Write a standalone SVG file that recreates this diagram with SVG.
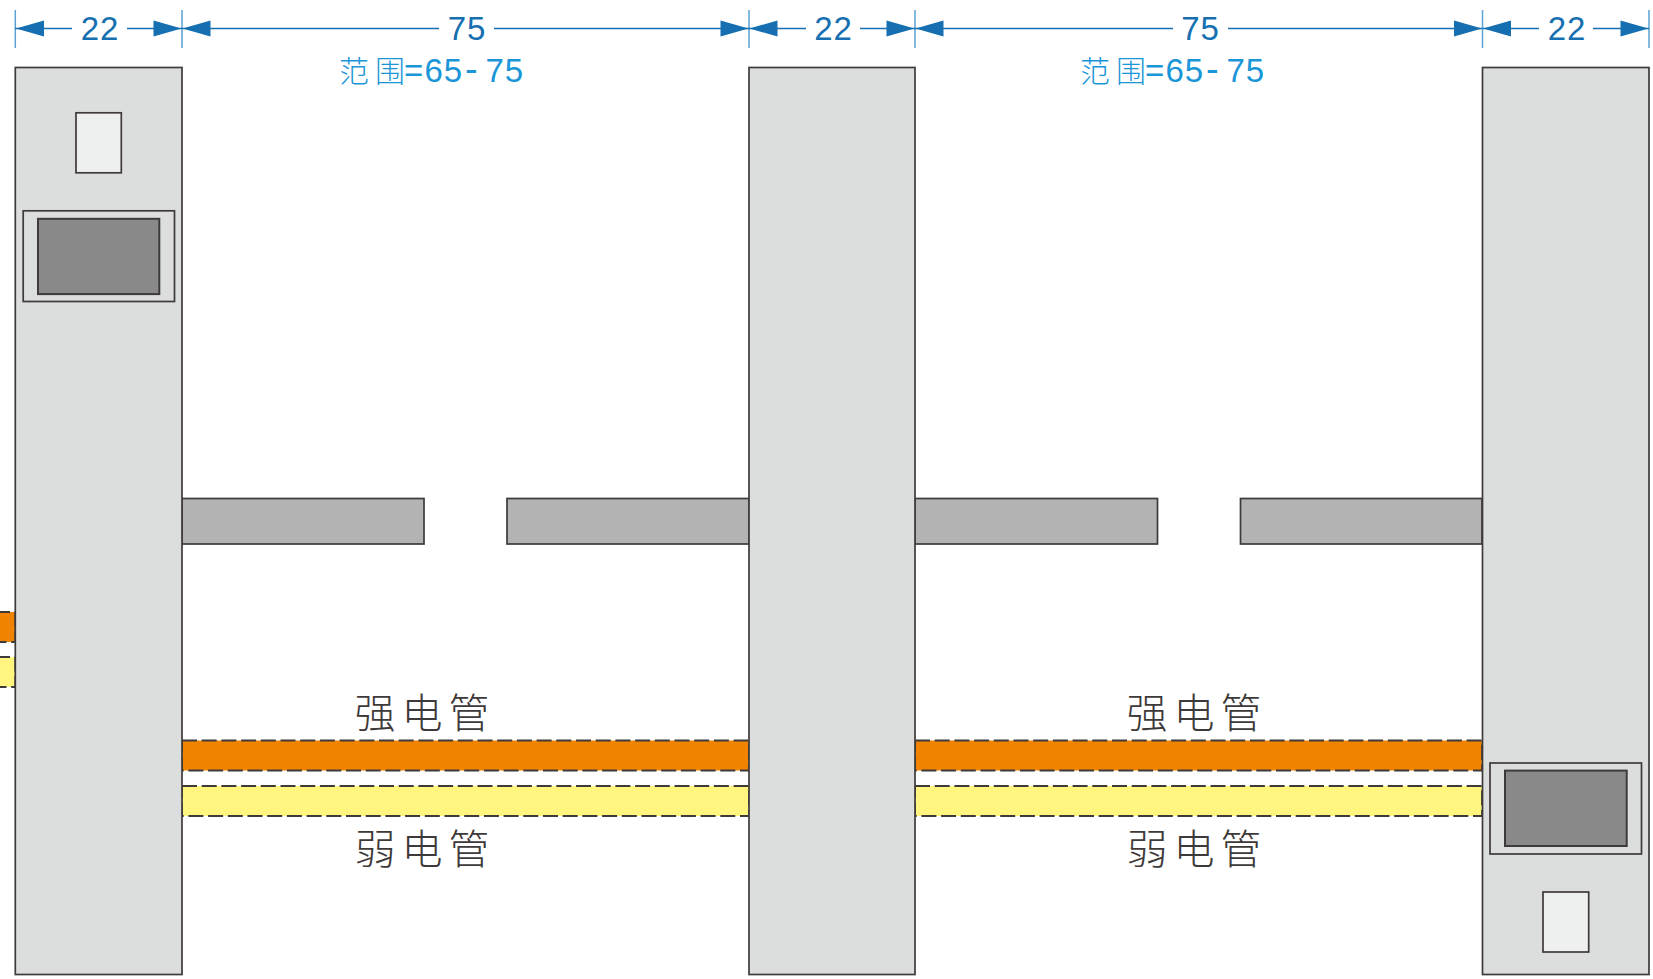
<svg xmlns="http://www.w3.org/2000/svg" width="1653" height="979" viewBox="0 0 1653 979">
<style>
.s{stroke:#3e3a39;stroke-width:1.7}
.post{fill:#dcdddd}
.win{fill:#eef0ef}
.scr{fill:#898989;stroke-width:2}
.fr{fill:#dcdddd}
.bar{fill:#b3b3b3}
.o{fill:#f08300}
.y{fill:#fff57f}
.d{stroke:#3e3a39;stroke-width:1.8;stroke-dasharray:15 4.7}
.dim{stroke:#156fb0;stroke-width:1.5;fill:none}
.tick{stroke:#5ba3d4;stroke-width:1.5;fill:none}
.a{fill:#156fb0}
.t{font-family:"Liberation Sans","Noto Sans CJK SC",sans-serif;font-size:33px;letter-spacing:1px;fill:#156fb0;text-anchor:middle}
.r{font-family:"Liberation Sans","Noto Sans CJK SC",sans-serif;font-size:33px;letter-spacing:1px;fill:#1a96d8}
.r tspan.c{font-family:"Noto Sans CJK SC",sans-serif;font-weight:300;font-size:30px}
.r tspan.h{font-size:38px}
.l{font-family:"Noto Sans CJK SC",sans-serif;font-weight:300;font-size:41px;letter-spacing:6px;fill:#3e3a39;text-anchor:middle}
</style>
<defs>
<polygon id="al" class="a" points="0,0 28,-8 28,8"/>
<polygon id="ar" class="a" points="0,0 -28,-8 -28,8"/>
</defs>
<g id="conduits">
<rect class="o d" x="-5" y="612" width="20.3" height="30"/>
<rect class="y d" x="-5" y="657" width="20.3" height="30"/>
<rect class="o d" x="182" y="740.5" width="567" height="30"/>
<rect class="y d" x="182" y="786" width="567" height="30"/>
<rect class="o d" x="915" y="740.5" width="567" height="30"/>
<rect class="y d" x="915" y="786" width="567" height="30"/>
</g>
<g id="beams">
<rect class="bar s" x="182" y="498.5" width="242" height="45.5"/>
<rect class="bar s" x="507" y="498.5" width="242" height="45.5"/>
<rect class="bar s" x="915" y="498.5" width="242.5" height="45.5"/>
<rect class="bar s" x="1240.5" y="498.5" width="241.5" height="45.5"/>
</g>
<g id="post-left">
<rect class="post s" x="15.3" y="67.5" width="166.7" height="907"/>
<rect class="win s" x="76" y="112.8" width="45.3" height="60"/>
<rect class="fr s" x="23.2" y="210.8" width="151.3" height="90.7"/>
<rect class="scr s" x="38" y="218.8" width="121.3" height="75.3"/>
</g>
<g id="post-middle">
<rect class="post s" x="749" y="67.5" width="166" height="907"/>
</g>
<g id="post-right">
<rect class="post s" x="1482.5" y="67.5" width="166.5" height="907"/>
<rect class="fr s" x="1490" y="763" width="151.5" height="91"/>
<rect class="scr s" x="1505" y="770.6" width="121.7" height="75.4"/>
<rect class="win s" x="1543" y="892" width="45.7" height="60"/>
</g>
<g id="connectors">
<path class="tick" d="M15.3 10V48M182 10V48M749 10V48M915 10V48M1482.5 10V48M1649 10V48"/>
<path class="dim" d="M15 28.5H72M127 28.5H182M182 28.5H439M494 28.5H749M749 28.5H806M860 28.5H915M915 28.5H1173M1228 28.5H1482M1482.5 28.5H1539M1593 28.5H1649"/>
<use href="#al" x="16" y="28.5"/><use href="#ar" x="181.5" y="28.5"/>
<use href="#al" x="182.5" y="28.5"/><use href="#ar" x="748.5" y="28.5"/>
<use href="#al" x="749.5" y="28.5"/><use href="#ar" x="914.5" y="28.5"/>
<use href="#al" x="915.5" y="28.5"/><use href="#ar" x="1482" y="28.5"/>
<use href="#al" x="1483" y="28.5"/><use href="#ar" x="1648.5" y="28.5"/>
</g>
<g id="dimension-labels">
<text class="t" x="100" y="40">22</text>
<text class="t" x="467" y="40">75</text>
<text class="t" x="833.5" y="40">22</text>
<text class="t" x="1200.5" y="40">75</text>
<text class="t" x="1567" y="40">22</text>
<text class="r" y="82"><tspan class="c" x="339">范</tspan><tspan class="c" x="375">围</tspan><tspan x="404">=</tspan><tspan x="424.5">65</tspan><tspan class="h" x="465">-</tspan><tspan x="485.5">75</tspan></text>
<text class="r" y="82"><tspan class="c" x="1080">范</tspan><tspan class="c" x="1116">围</tspan><tspan x="1145">=</tspan><tspan x="1165.5">65</tspan><tspan class="h" x="1206">-</tspan><tspan x="1226.5">75</tspan></text>
</g>
<g id="conduit-labels">
<text class="l" x="425" y="727.5">强电管</text>
<text class="l" x="1197" y="727.5">强电管</text>
<text class="l" x="425" y="863.5">弱电管</text>
<text class="l" x="1197" y="863.5">弱电管</text>
</g>
</svg>
